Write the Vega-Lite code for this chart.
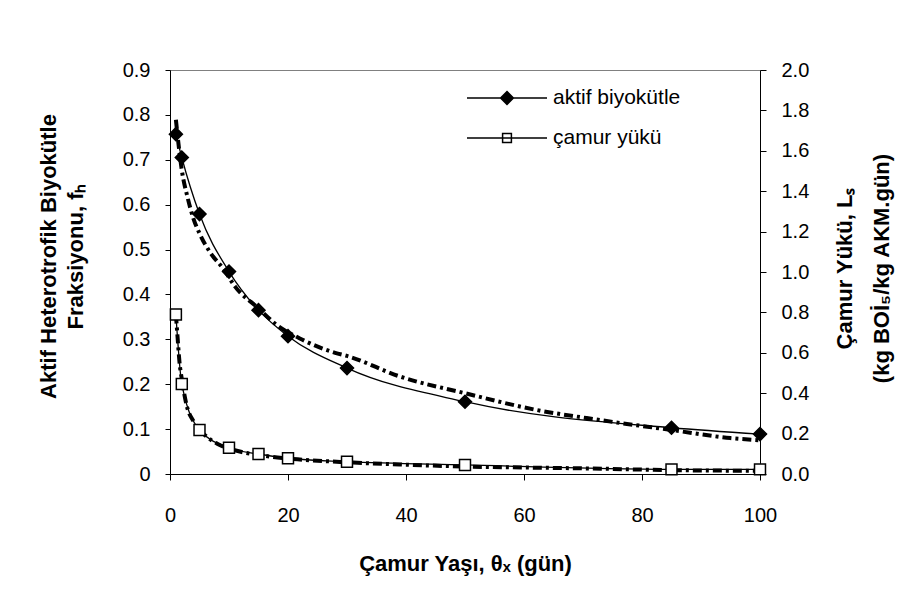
{
  "$schema": "https://vega.github.io/schema/vega-lite/v6.json",
  "width": 590,
  "height": 404,
  "autosize": {"type": "none"},
  "padding": {"left": 170, "top": 70, "right": 157, "bottom": 136},
  "background": "white",
  "config": {
    "font": "Liberation Sans",
    "view": {"stroke": "#808080", "strokeWidth": 1},
    "axis": {
      "grid": false,
      "domainColor": "black",
      "tickColor": "black",
      "labelColor": "black",
      "titleColor": "black",
      "labelFont": "Liberation Sans",
      "titleFont": "Liberation Sans",
      "labelFontSize": 20,
      "titleFontSize": 22,
      "titleFontWeight": "bold",
      "domainWidth": 1,
      "tickWidth": 1
    },
    "legend": {
      "title": null,
      "orient": "none",
      "padding": 0,
      "symbolSize": 6400,
      "clipHeight": 20,
      "labelFontSize": 21,
      "labelFont": "Liberation Sans",
      "labelColor": "black",
      "labelOffset": 5,
      "symbolStrokeWidth": 1.5,
      "symbolStrokeColor": "black",
      "symbolOpacity": 1
    }
  },
  "datasets": {
    "veri": [
      {"seri": "aktif biyokütle", "tur": "ölçüm", "theta": 1, "deger": 0.757},
      {"seri": "aktif biyokütle", "tur": "ölçüm", "theta": 2, "deger": 0.705},
      {"seri": "aktif biyokütle", "tur": "ölçüm", "theta": 5, "deger": 0.579},
      {"seri": "aktif biyokütle", "tur": "ölçüm", "theta": 10, "deger": 0.451},
      {"seri": "aktif biyokütle", "tur": "ölçüm", "theta": 15, "deger": 0.365},
      {"seri": "aktif biyokütle", "tur": "ölçüm", "theta": 20, "deger": 0.307},
      {"seri": "aktif biyokütle", "tur": "ölçüm", "theta": 30, "deger": 0.236},
      {"seri": "aktif biyokütle", "tur": "ölçüm", "theta": 50, "deger": 0.161},
      {"seri": "aktif biyokütle", "tur": "ölçüm", "theta": 85, "deger": 0.103},
      {"seri": "aktif biyokütle", "tur": "ölçüm", "theta": 100, "deger": 0.089},
      {"seri": "aktif biyokütle", "tur": "model", "theta": 1, "deger": 0.789},
      {"seri": "aktif biyokütle", "tur": "model", "theta": 2, "deger": 0.677},
      {"seri": "aktif biyokütle", "tur": "model", "theta": 3, "deger": 0.615},
      {"seri": "aktif biyokütle", "tur": "model", "theta": 4, "deger": 0.568},
      {"seri": "aktif biyokütle", "tur": "model", "theta": 5, "deger": 0.536},
      {"seri": "aktif biyokütle", "tur": "model", "theta": 7, "deger": 0.49},
      {"seri": "aktif biyokütle", "tur": "model", "theta": 9, "deger": 0.458},
      {"seri": "aktif biyokütle", "tur": "model", "theta": 11, "deger": 0.418},
      {"seri": "aktif biyokütle", "tur": "model", "theta": 15, "deger": 0.369},
      {"seri": "aktif biyokütle", "tur": "model", "theta": 18, "deger": 0.333},
      {"seri": "aktif biyokütle", "tur": "model", "theta": 22, "deger": 0.302},
      {"seri": "aktif biyokütle", "tur": "model", "theta": 28, "deger": 0.27},
      {"seri": "aktif biyokütle", "tur": "model", "theta": 30, "deger": 0.263},
      {"seri": "aktif biyokütle", "tur": "model", "theta": 39, "deger": 0.217},
      {"seri": "aktif biyokütle", "tur": "model", "theta": 50, "deger": 0.18},
      {"seri": "aktif biyokütle", "tur": "model", "theta": 62, "deger": 0.143},
      {"seri": "aktif biyokütle", "tur": "model", "theta": 73, "deger": 0.12},
      {"seri": "aktif biyokütle", "tur": "model", "theta": 85, "deger": 0.098},
      {"seri": "aktif biyokütle", "tur": "model", "theta": 95, "deger": 0.08},
      {"seri": "aktif biyokütle", "tur": "model", "theta": 100, "deger": 0.075},
      {"seri": "çamur yükü", "tur": "ölçüm", "theta": 1, "deger": 0.79},
      {"seri": "çamur yükü", "tur": "ölçüm", "theta": 2, "deger": 0.446},
      {"seri": "çamur yükü", "tur": "ölçüm", "theta": 5, "deger": 0.218},
      {"seri": "çamur yükü", "tur": "ölçüm", "theta": 10, "deger": 0.13},
      {"seri": "çamur yükü", "tur": "ölçüm", "theta": 15, "deger": 0.099},
      {"seri": "çamur yükü", "tur": "ölçüm", "theta": 20, "deger": 0.078},
      {"seri": "çamur yükü", "tur": "ölçüm", "theta": 30, "deger": 0.061},
      {"seri": "çamur yükü", "tur": "ölçüm", "theta": 50, "deger": 0.045},
      {"seri": "çamur yükü", "tur": "ölçüm", "theta": 85, "deger": 0.023},
      {"seri": "çamur yükü", "tur": "ölçüm", "theta": 100, "deger": 0.023},
      {"seri": "çamur yükü", "tur": "model", "theta": 1, "deger": 0.79},
      {"seri": "çamur yükü", "tur": "model", "theta": 1.3, "deger": 0.67},
      {"seri": "çamur yükü", "tur": "model", "theta": 1.6, "deger": 0.556},
      {"seri": "çamur yükü", "tur": "model", "theta": 2, "deger": 0.47},
      {"seri": "çamur yükü", "tur": "model", "theta": 2.8, "deger": 0.342},
      {"seri": "çamur yükü", "tur": "model", "theta": 4, "deger": 0.26},
      {"seri": "çamur yükü", "tur": "model", "theta": 6.2, "deger": 0.185},
      {"seri": "çamur yükü", "tur": "model", "theta": 8, "deger": 0.15},
      {"seri": "çamur yükü", "tur": "model", "theta": 12, "deger": 0.11},
      {"seri": "çamur yükü", "tur": "model", "theta": 16, "deger": 0.09},
      {"seri": "çamur yükü", "tur": "model", "theta": 22, "deger": 0.072},
      {"seri": "çamur yükü", "tur": "model", "theta": 30, "deger": 0.058},
      {"seri": "çamur yükü", "tur": "model", "theta": 40, "deger": 0.046},
      {"seri": "çamur yükü", "tur": "model", "theta": 50, "deger": 0.037},
      {"seri": "çamur yükü", "tur": "model", "theta": 60, "deger": 0.032},
      {"seri": "çamur yükü", "tur": "model", "theta": 70, "deger": 0.028},
      {"seri": "çamur yükü", "tur": "model", "theta": 85, "deger": 0.019},
      {"seri": "çamur yükü", "tur": "model", "theta": 100, "deger": 0.016}
    ]
  },
  "data": {"name": "veri"},
  "encoding": {
    "x": {
      "field": "theta",
      "type": "quantitative",
      "scale": {"domain": [0, 100], "nice": false},
      "axis": {
        "values": [0, 20, 40, 60, 80, 100],
        "tickSize": 6,
        "labelPadding": 25,
        "labelFlush": false,
        "title": "Çamur Yaşı, θₓ (gün)",
        "titleX": 295,
        "titleY": 89,
        "titleBaseline": "middle",
        "titleAlign": "center"
      }
    }
  },
  "layer": [
    {
      "transform": [{"filter": "datum.seri === 'aktif biyokütle'"}],
      "encoding": {
        "y": {
          "field": "deger",
          "type": "quantitative",
          "scale": {"domain": [0, 0.9], "nice": false},
          "axis": {
            "orient": "left",
            "values": [0, 0.1, 0.2, 0.3, 0.4, 0.5, 0.6, 0.7, 0.8, 0.9],
            "labelExpr": "datum.value === 0 ? '0' : format(datum.value, '.1f')",
            "tickSize": 5,
            "labelPadding": 15,
            "title": ["Aktif Heterotrofik Biyokütle", "Fraksiyonu, fₕ"],
            "titleX": -122,
            "titleY": 186,
            "titleAngle": 270,
            "titleAlign": "center",
            "titleBaseline": "middle",
            "titleLineHeight": 27
          }
        }
      },
      "layer": [
        {
          "transform": [{"filter": "datum.tur === 'model'"}],
          "mark": {"type": "line", "interpolate": "monotone", "stroke": "black", "strokeWidth": 4, "strokeDash": [9, 4, 3, 4]}
        },
        {
          "transform": [{"filter": "datum.tur === 'ölçüm'"}],
          "mark": {"type": "line", "interpolate": "monotone", "stroke": "black", "strokeWidth": 1.3}
        },
        {
          "transform": [{"filter": "datum.tur === 'ölçüm'"}],
          "mark": {"type": "point", "filled": true, "stroke": "black", "strokeWidth": 1.5, "size": 170, "opacity": 1},
          "encoding": {
            "shape": {
              "field": "seri",
              "type": "nominal",
              "scale": {"range": ["diamond", "square"]},
              "legend": null
            },
            "fill": {
              "field": "seri",
              "type": "nominal",
              "scale": {"domain": ["aktif biyokütle"], "range": ["black"]},
              "legend": {
                "legendX": 296,
                "legendY": 18,
                "symbolType": "M-1,0H1M0,-0.16L0.16,0L0,0.16L-0.16,0Z",
                "symbolStrokeColor": "black"
              }
            }
          }
        }
      ]
    },
    {
      "transform": [{"filter": "datum.seri === 'çamur yükü'"}],
      "encoding": {
        "y": {
          "field": "deger",
          "type": "quantitative",
          "scale": {"domain": [0, 2], "nice": false},
          "axis": {
            "orient": "right",
            "values": [0, 0.2, 0.4, 0.6, 0.8, 1, 1.2, 1.4, 1.6, 1.8, 2],
            "format": ".1f",
            "tickSize": 6,
            "labelPadding": 15,
            "title": ["Çamur Yükü, Lₛ", "(kg BOİ₅/kg AKM.gün)"],
            "titleX": 84,
            "titleY": 198,
            "titleAngle": 270,
            "titleAlign": "center",
            "titleBaseline": "middle",
            "titleLineHeight": 37
          }
        }
      },
      "layer": [
        {
          "transform": [{"filter": "datum.tur === 'model'"}],
          "mark": {"type": "line", "interpolate": "monotone", "stroke": "black", "strokeWidth": 4, "strokeDash": [9, 4, 3, 4]}
        },
        {
          "transform": [{"filter": "datum.tur === 'ölçüm'"}],
          "mark": {"type": "line", "interpolate": "monotone", "stroke": "black", "strokeWidth": 1.3}
        },
        {
          "transform": [{"filter": "datum.tur === 'ölçüm'"}],
          "mark": {"type": "point", "filled": true, "fill": "white", "strokeWidth": 1.5, "size": 120, "opacity": 1},
          "encoding": {
            "shape": {
              "field": "seri",
              "type": "nominal",
              "scale": {"range": ["diamond", "square"]},
              "legend": null
            },
            "stroke": {
              "field": "seri",
              "type": "nominal",
              "scale": {"domain": ["çamur yükü"], "range": ["black"]},
              "legend": {
                "legendX": 296,
                "legendY": 58,
                "symbolType": "M-1,0H1M-0.11,-0.11H0.11V0.11H-0.11Z",
                "symbolFillColor": "white"
              }
            }
          }
        }
      ]
    }
  ],
  "resolve": {"scale": {"y": "independent"}}
}
